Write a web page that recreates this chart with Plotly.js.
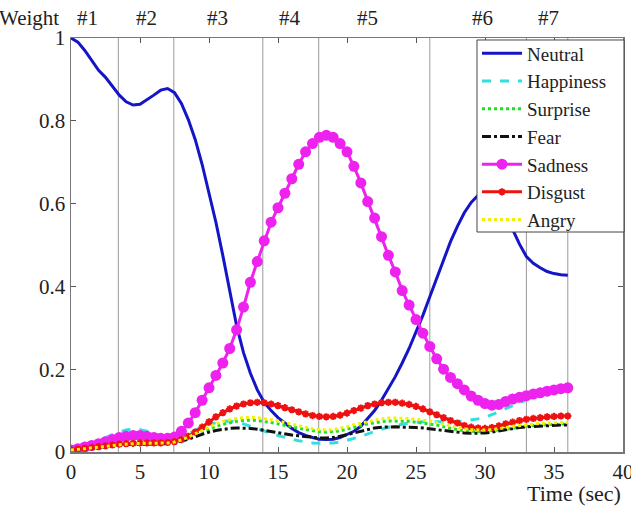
<!DOCTYPE html>
<html>
<head>
<meta charset="utf-8">
<script src="https://cdn.plot.ly/plotly-3.0.1.min.js"></script>
<style>html,body{margin:0;padding:0;background:#fff;}#chart{width:631px;height:506px;}</style>
</head>
<body>
<div id="chart"></div>
<script>
var time = [0,0.5,1,1.5,2,2.5,3,3.5,4,4.5,
  5,5.5,6,6.5,7,7.5,8,8.5,9,9.5,
  10,10.5,11,11.5,12,12.5,13,13.5,14,14.5,
  15,15.5,16,16.5,17,17.5,18,18.5,19,19.5,
  20,20.5,21,21.5,22,22.5,23,23.5,24,24.5,
  25,25.5,26,26.5,27,27.5,28,28.5,29,29.5,
  30,30.5,31,31.5,32,32.5,33,33.5,34,34.5,
  35,35.5,36];

var neutral = [1.0,0.99,0.97,0.945,0.922,0.905,0.882,0.862,0.846,0.838,
  0.84,0.85,0.862,0.874,0.878,0.868,0.842,0.803,0.755,0.695,
  0.625,0.555,0.475,0.39,0.305,0.24,0.19,0.15,0.12,0.1,
  0.083,0.07,0.057,0.047,0.04,0.035,0.031,0.03,0.031,0.035,
  0.042,0.05,0.062,0.08,0.1,0.125,0.152,0.182,0.215,0.25,
  0.29,0.33,0.375,0.42,0.465,0.508,0.545,0.578,0.603,0.62,
  0.628,0.623,0.605,0.575,0.538,0.502,0.472,0.456,0.445,0.436,
  0.431,0.428,0.427];

var happiness = [0.005,0.01,0.015,0.02,0.027,0.035,0.042,0.048,0.053,0.055,
  0.054,0.05,0.044,0.037,0.032,0.032,0.036,0.044,0.053,0.061,
  0.067,0.071,0.074,0.075,0.073,0.068,0.062,0.056,0.05,0.045,
  0.04,0.035,0.031,0.027,0.024,0.022,0.021,0.021,0.022,0.024,
  0.028,0.033,0.038,0.044,0.05,0.055,0.06,0.064,0.067,0.07,
  0.072,0.073,0.073,0.073,0.072,0.072,0.073,0.075,0.077,0.08,
  0.084,0.09,0.097,0.105,0.112,0.12,0.127,0.133,0.138,0.142,
  0.146,0.149,0.151];

var surprise = [0.005,0.006,0.008,0.01,0.012,0.014,0.016,0.017,0.018,0.019,
  0.02,0.02,0.02,0.02,0.021,0.023,0.027,0.034,0.041,0.049,
  0.056,0.062,0.067,0.071,0.074,0.076,0.077,0.076,0.074,0.071,
  0.068,0.065,0.061,0.057,0.054,0.051,0.049,0.048,0.049,0.051,
  0.055,0.06,0.064,0.068,0.071,0.073,0.075,0.075,0.075,0.074,
  0.072,0.07,0.068,0.065,0.061,0.057,0.054,0.051,0.05,0.049,
  0.05,0.051,0.053,0.055,0.058,0.06,0.062,0.064,0.065,0.066,
  0.067,0.067,0.068];

var fear = [0.005,0.006,0.008,0.01,0.012,0.014,0.016,0.017,0.018,0.019,
  0.019,0.019,0.019,0.019,0.02,0.022,0.026,0.031,0.037,0.043,
  0.048,0.052,0.055,0.057,0.058,0.058,0.057,0.055,0.052,0.049,
  0.046,0.043,0.041,0.039,0.037,0.035,0.034,0.034,0.035,0.038,
  0.042,0.047,0.051,0.055,0.058,0.06,0.061,0.061,0.06,0.06,
  0.059,0.058,0.056,0.053,0.051,0.049,0.047,0.046,0.045,0.045,
  0.046,0.048,0.051,0.054,0.057,0.059,0.061,0.062,0.063,0.064,
  0.064,0.065,0.065];

var sadness = [0.005,0.008,0.012,0.016,0.02,0.025,0.03,0.035,0.038,0.04,
  0.04,0.038,0.035,0.033,0.033,0.036,0.05,0.07,0.095,0.125,
  0.155,0.185,0.215,0.25,0.295,0.35,0.41,0.46,0.51,0.555,
  0.59,0.625,0.66,0.695,0.725,0.745,0.76,0.765,0.76,0.745,
  0.725,0.69,0.65,0.605,0.565,0.52,0.475,0.435,0.39,0.355,
  0.32,0.287,0.255,0.225,0.2,0.18,0.165,0.15,0.135,0.125,
  0.117,0.113,0.115,0.122,0.128,0.132,0.136,0.14,0.143,0.147,
  0.15,0.153,0.155];

var disgust = [0.005,0.007,0.009,0.011,0.013,0.015,0.017,0.019,0.02,0.021,
  0.022,0.022,0.022,0.022,0.023,0.025,0.03,0.038,0.048,0.06,
  0.073,0.085,0.095,0.104,0.111,0.116,0.119,0.12,0.119,0.116,
  0.112,0.107,0.102,0.097,0.092,0.088,0.086,0.085,0.086,0.089,
  0.094,0.1,0.106,0.112,0.116,0.119,0.12,0.12,0.118,0.115,
  0.11,0.104,0.097,0.09,0.083,0.076,0.07,0.064,0.06,0.058,
  0.057,0.059,0.063,0.068,0.072,0.076,0.079,0.081,0.083,0.085,
  0.086,0.087,0.087];

var angry = [0.005,0.006,0.008,0.01,0.012,0.014,0.016,0.018,0.019,0.02,
  0.021,0.021,0.021,0.021,0.022,0.024,0.029,0.036,0.044,0.053,
  0.061,0.068,0.074,0.078,0.081,0.083,0.084,0.083,0.081,0.078,
  0.075,0.071,0.067,0.063,0.059,0.056,0.054,0.053,0.054,0.057,
  0.061,0.066,0.07,0.074,0.077,0.08,0.082,0.082,0.082,0.081,
  0.079,0.077,0.075,0.071,0.067,0.063,0.059,0.056,0.054,0.053,
  0.053,0.054,0.056,0.059,0.062,0.064,0.066,0.068,0.069,0.07,
  0.071,0.072,0.072];

var weightBounds = [3.43, 7.45, 13.9, 17.95, 26.0, 33.0, 36.0];
var weightLabelPos = [1.2, 5.5, 10.6, 15.9, 21.5, 29.8, 34.6];
var weightLabels = ['#1','#2','#3','#4','#5','#6','#7'];
var xTicks = [0,5,10,15,20,25,30,35,40];
var yTicks = [0,0.2,0.4,0.6,0.8,1];
var yTickText = ['0','0.2','0.4','0.6','0.8','1'];

var FONT = 'Liberation Serif';

var traces = [
  {name:'Neutral', y:neutral, line:{color:'#1515c8', width:3}},
  {name:'Happiness', y:happiness, line:{color:'#33dede', width:3, dash:'dash'}},
  {name:'Surprise', y:surprise, line:{color:'#22dd22', width:3, dash:'dot'}},
  {name:'Fear', y:fear, line:{color:'#111111', width:3, dash:'dashdot'}},
  {name:'Sadness', y:sadness, mode:'lines+markers', line:{color:'#ee22ee', width:3},
    marker:{symbol:'circle', size:11, color:'#ee22ee'}},
  {name:'Disgust', y:disgust, mode:'lines+markers', line:{color:'#ee1111', width:3},
    marker:{symbol:'asterisk-open', size:6, color:'#ee1111', line:{color:'#ee1111', width:2}}},
  {name:'Angry', y:angry, line:{color:'#f2f200', width:3, dash:'dot'}}
].map(function(t){
  return Object.assign({type:'scatter', mode:'lines', x:time}, t);
});

var shapes = weightBounds.map(function(b){
  return {type:'line', xref:'x', yref:'paper', x0:b, x1:b, y0:0, y1:1,
    line:{color:'#9a9a9a', width:1}, layer:'below'};
});
// legend frame (white box with border, drawn over the curves, under the legend entries)
shapes.push({type:'rect', xref:'paper', yref:'paper', x0:0.7355, x1:1.0018, y0:0.5314, y1:0.9952,
  fillcolor:'#ffffff', line:{color:'#444', width:1}, layer:'above'});

var annotations = weightLabels.map(function(l, i){
  return {text:l, x:weightLabelPos[i], xref:'x', y:1.048, yref:'paper',
    xanchor:'center', yanchor:'middle', showarrow:false,
    font:{family:FONT, size:21, color:'#222'}};
});
annotations.push({text:'Weight', x:-0.019, xref:'paper', y:1.048, yref:'paper',
  xanchor:'right', yanchor:'middle', showarrow:false, font:{family:FONT, size:21, color:'#222'}});
annotations.push({text:'Time (sec)', x:1.0, xref:'paper', y:-0.1, yref:'paper',
  xanchor:'right', yanchor:'middle', showarrow:false, font:{family:FONT, size:22, color:'#222'}});

var layout = {
  width:631, height:506,
  margin:{l:71, r:8, t:38, b:54, pad:0},
  paper_bgcolor:'#fff', plot_bgcolor:'#fff',
  font:{family:FONT, size:20, color:'#222'},
  showlegend:true,
  legend:{x:0.7355, y:1.0085, xanchor:'left', yanchor:'top',
    bgcolor:'rgba(0,0,0,0)', borderwidth:0,
    font:{family:FONT, size:19, color:'#222'}, tracegroupgap:0, itemwidth:40},
  xaxis:{range:[0,40], tickvals:xTicks, ticks:'inside', ticklen:5, tickcolor:'#555',
    showline:true, linecolor:'#777', linewidth:1.5, mirror:'ticks', showgrid:false, zeroline:false,
    ticklabeloverflow:'allow',
    tickfont:{family:FONT, size:21, color:'#222'}},
  yaxis:{range:[0,1], tickvals:yTicks, ticktext:yTickText, ticks:'inside', ticklen:5, tickcolor:'#555',
    showline:true, linecolor:'#777', linewidth:1.5, mirror:'ticks', showgrid:false, zeroline:false,
    ticklabeloverflow:'allow',
    tickfont:{family:FONT, size:21, color:'#222'}},
  shapes:shapes,
  annotations:annotations
};

Plotly.newPlot('chart', traces, layout, {displayModeBar:false, staticPlot:true});
</script>
</body>
</html>
